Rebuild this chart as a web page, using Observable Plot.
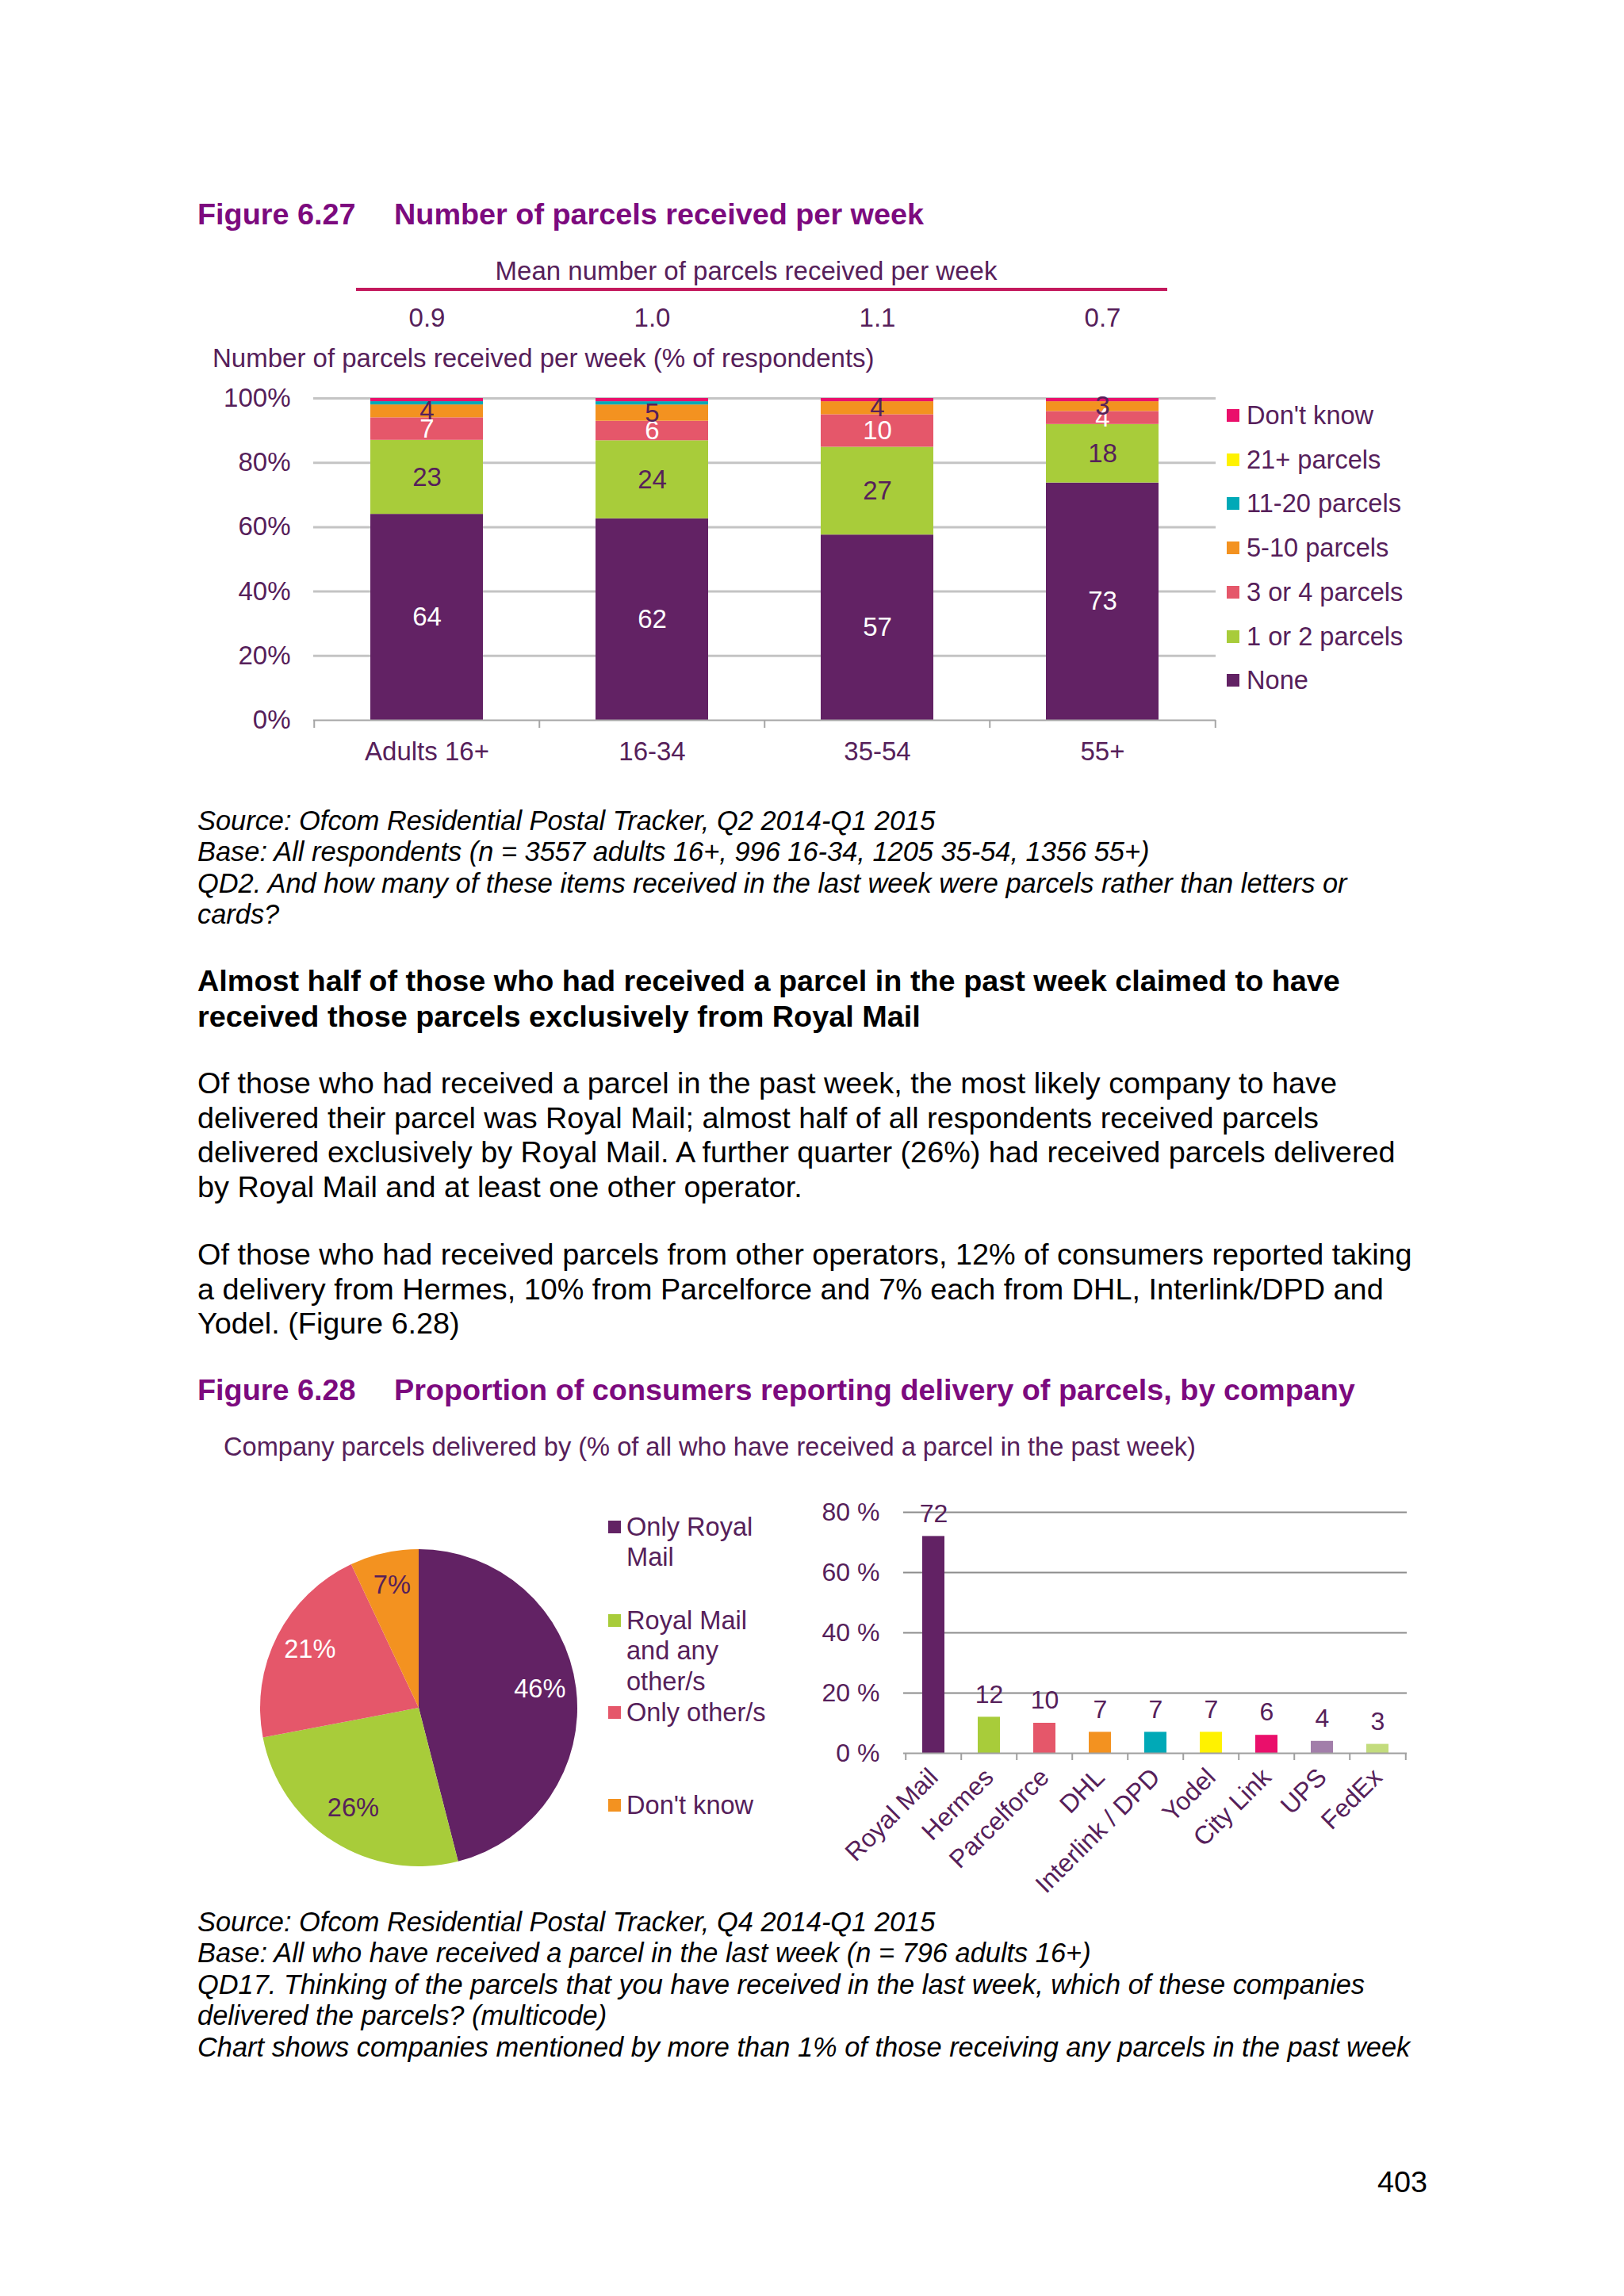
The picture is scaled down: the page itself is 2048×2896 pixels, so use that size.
<!DOCTYPE html>
<html>
<head>
<meta charset="utf-8">
<script src="https://cdn.jsdelivr.net/npm/d3@7"></script>
<script src="https://cdn.jsdelivr.net/npm/@observablehq/plot@0.6"></script>
<style>
html, body { margin: 0; padding: 0; background: #fff; }
#page { position: relative; width: 2048px; height: 2896px; background: #fff; overflow: hidden;
  font-family: "Liberation Sans", Arial, sans-serif; }
.abs { position: absolute; white-space: nowrap; }
.title { font-weight: bold; font-size: 37.8px; line-height: 44px; color: #7c0a7e; }
.body { font-size: 37.8px; color: #000; }
.src { font-style: italic; font-size: 34.4px; line-height: 39.4px; color: #000; }
.ct { font-size: 33px; line-height: 40px; color: #56205a; }
.lg { font-size: 32.6px; line-height: 40px; color: #56205a; }
.sw { position: absolute; width: 16px; height: 16px; }
</style>
</head>
<body>
<div id="page">
  <div class="abs title" style="left:249px;top:248px;">Figure 6.27</div>
  <div class="abs title" style="left:497px;top:248px;">Number of parcels received per week</div>

  <div class="abs ct" style="left:941px;top:322px;transform:translateX(-50%);">Mean number of parcels received per week</div>
  <div class="abs" style="left:449px;top:363px;width:1023px;height:4px;background:#c3195d;"></div>
  <div class="abs ct" style="left:268px;top:432px;">Number of parcels received per week (% of respondents)</div>

  <div id="chart1" class="abs" style="left:240px;top:370px;"></div>
  <div id="legend1"></div>

  <div class="abs src" style="left:249px;top:1016px;">Source: Ofcom Residential Postal Tracker, Q2 2014-Q1 2015<br>Base: All respondents (n = 3557 adults 16+, 996 16-34, 1205 35-54, 1356 55+)<br>QD2. And how many of these items received in the last week were parcels rather than letters or<br>cards?</div>

  <div class="abs body" style="left:249px;top:1215px;line-height:44.5px;font-weight:bold;">Almost half of those who had received a parcel in the past week claimed to have<br>received those parcels exclusively from Royal Mail</div>

  <div class="abs body" style="left:249px;top:1345px;line-height:43.7px;">Of those who had received a parcel in the past week, the most likely company to have<br>delivered their parcel was Royal Mail; almost half of all respondents received parcels<br>delivered exclusively by Royal Mail. A further quarter (26%) had received parcels delivered<br>by Royal Mail and at least one other operator.</div>

  <div class="abs body" style="left:249px;top:1561px;line-height:43.5px;">Of those who had received parcels from other operators, 12% of consumers reported taking<br>a delivery from Hermes, 10% from Parcelforce and 7% each from DHL, Interlink/DPD and<br>Yodel. (Figure 6.28)</div>

  <div class="abs title" style="left:249px;top:1731px;">Figure 6.28</div>
  <div class="abs title" style="left:497px;top:1731px;">Proportion of consumers reporting delivery of parcels, by company</div>
  <div class="abs ct" style="left:282px;top:1805px;font-size:32.6px;">Company parcels delivered by (% of all who have received a parcel in the past week)</div>

  <div id="pie" class="abs" style="left:308px;top:1934px;"></div>
  <div id="legend2"></div>
  <div id="chart2" class="abs" style="left:1000px;top:1860px;"></div>

  <div class="abs src" style="left:249px;top:2405px;">Source: Ofcom Residential Postal Tracker, Q4 2014-Q1 2015<br>Base: All who have received a parcel in the last week (n = 796 adults 16+)<br>QD17. Thinking of the parcels that you have received in the last week, which of these companies<br>delivered the parcels? (multicode)<br>Chart shows companies mentioned by more than 1% of those receiving any parcels in the past week</div>

  <div class="abs body" style="right:248px;top:2730px;line-height:44px;">403</div>
</div>

<script>
// ---------- Figure 6.27 data ----------
const groups = ["Adults 16+", "16-34", "35-54", "55+"];
const seriesNames = ["None", "1 or 2 parcels", "3 or 4 parcels", "5-10 parcels", "11-20 parcels", "21+ parcels", "Don't know"];
const noneVals      = [64, 62, 57, 73];
const oneTwoVals    = [23, 24, 27, 18];
const threeFourVals = [7, 6, 10, 4];
const fiveTenVals   = [4, 5, 4, 3];
const elevenTwentyVals = [1, 1, 0, 0];
const twentyOneVals = [0, 0, 0, 0];
const dontKnowVals  = [1, 1, 1, 1];
const meanParcels = ["0.9", "1.0", "1.1", "0.7"];
const seriesPalette = ["#622264", "#a8cc3a", "#e5576a", "#f39220", "#00a9b7", "#fff200", "#ea0f6b"];

// ---------- Figure 6.28 data ----------
const pieCategories = ["Only Royal Mail", "Royal Mail and any other/s", "Only other/s", "Don't know"];
const pieShares = [46, 26, 21, 7];
const piePalette = ["#622264", "#a8cc3a", "#e5576a", "#f39220"];

const companies = ["Royal Mail", "Hermes", "Parcelforce", "DHL", "Interlink / DPD", "Yodel", "City Link", "UPS", "FedEx"];
const companyShares = [72, 12, 10, 7, 7, 7, 6, 4, 3];
const companyPalette = ["#622264", "#a8cc3a", "#e5576a", "#f39220", "#00a9b7", "#fff200", "#ea0f6b", "#a27eaa", "#c3dc7d"];

const FONT = '"Liberation Sans", Arial, sans-serif';
const TXT = "#56205a";

// ---------- Chart 1: stacked 100% columns ----------
const seriesValues = [noneVals, oneTwoVals, threeFourVals, fiveTenVals, elevenTwentyVals, twentyOneVals, dontKnowVals];
const rows1 = seriesNames.flatMap((s, si) => groups.map((g, gi) => ({group: g, series: s, value: seriesValues[si][gi]})));
const whiteLabelSeries = ["None", "3 or 4 parcels"];
const darkLabelSeries = ["1 or 2 parcels", "5-10 parcels"];

const W1 = 1600, H1 = 610, ML1 = 155, MR1 = 307, MT1 = 132, MB1 = 72;
const step1 = (W1 - ML1 - MR1) / groups.length;
const tick1 = 10 / (H1 - MT1 - MB1);

const chart1 = Plot.plot({
  width: W1, height: H1,
  marginLeft: ML1, marginRight: MR1, marginTop: MT1, marginBottom: MB1,
  style: {fontFamily: FONT, fontSize: "33px", color: TXT, background: "transparent", overflow: "visible"},
  x: {domain: groups, paddingInner: 0.5, paddingOuter: 0.25, tickSize: 0, tickPadding: 27, label: null},
  y: {domain: [0, 1], ticks: 5, tickFormat: d3.format(".0%"), tickSize: 0, tickPadding: 29, label: null},
  color: {domain: seriesNames, range: seriesPalette},
  marks: [
    Plot.ruleY([0.2, 0.4, 0.6, 0.8, 1], {stroke: "#c4c4c4", strokeWidth: 3}),
    Plot.barY(rows1, Plot.stackY({offset: "expand", x: "group", y: "value", fill: "series"})),
    Plot.ruleY([0], {stroke: "#a6a6a6", strokeWidth: 2}),
    Plot.ruleX(groups, {x: d => d, y1: 0, y2: -tick1, dx: -step1 / 2, stroke: "#a6a6a6", strokeWidth: 2}),
    Plot.ruleX(groups.slice(-1), {x: d => d, y1: 0, y2: -tick1, dx: step1 / 2, stroke: "#a6a6a6", strokeWidth: 2}),
    Plot.text(rows1, Plot.stackY({offset: "expand", x: "group", y: "value", z: "series",
      text: d => whiteLabelSeries.includes(d.series) ? String(d.value) : "", fill: "#ffffff"})),
    Plot.text(rows1, Plot.stackY({offset: "expand", x: "group", y: "value", z: "series",
      text: d => darkLabelSeries.includes(d.series) ? String(d.value) : "", fill: TXT})),
    Plot.text(groups, {x: d => d, text: (d, i) => meanParcels[i], frameAnchor: "top", dy: -114, fill: TXT})
  ]
});
document.getElementById("chart1").appendChild(chart1);

// legend 1 (top item = last series)
const leg1 = document.getElementById("legend1");
[...seriesNames].reverse().forEach((s, k) => {
  const ci = seriesNames.indexOf(s);
  const cy = 524 + k * 55.7;
  const sw = document.createElement("div");
  sw.className = "sw";
  sw.style.left = "1547px"; sw.style.top = (cy - 8) + "px"; sw.style.background = seriesPalette[ci];
  leg1.appendChild(sw);
  const t = document.createElement("div");
  t.className = "abs lg";
  t.style.left = "1572px"; t.style.top = (cy - 20) + "px";
  t.textContent = s;
  leg1.appendChild(t);
});

// ---------- Pie ----------
const pieRows = pieCategories.map((c, i) => ({category: c, share: pieShares[i]}));
function pieMark(index, scales, values, dims) {
  const w = dims.width, h = dims.height;
  const ml = dims.marginLeft || 0, mr = dims.marginRight || 0, mt = dims.marginTop || 0, mb = dims.marginBottom || 0;
  const cx = ml + (w - ml - mr) / 2, cy = mt + (h - mt - mb) / 2;
  const r = Math.min(w - ml - mr, h - mt - mb) / 2;
  const arcs = d3.pie().sort(null).value(d => d.share)(pieRows);
  const arc = d3.arc().innerRadius(0).outerRadius(r);
  const labelArc = d3.arc().innerRadius(r * 0.77).outerRadius(r * 0.77);
  const g = d3.create("svg:g").attr("transform", `translate(${cx},${cy})`);
  g.selectAll("path").data(arcs).join("path")
    .attr("d", arc)
    .attr("fill", (d, i) => piePalette[i]);
  g.selectAll("text").data(arcs).join("text")
    .attr("transform", d => `translate(${labelArc.centroid(d)})`)
    .attr("text-anchor", "middle")
    .attr("dy", "0.2em")
    .attr("fill", (d, i) => (i === 0 || i === 2) ? "#ffffff" : TXT)
    .text(d => d.data.share + "%");
  return g.node();
}
const pie = Plot.plot({
  width: 440, height: 440, margin: 20,
  style: {fontFamily: FONT, fontSize: "32.6px", color: TXT, background: "transparent", overflow: "visible"},
  marks: [pieMark]
});
document.getElementById("pie").appendChild(pie);

// legend 2
const leg2 = document.getElementById("legend2");
const leg2Centers = [1926, 2044, 2160, 2277];
pieCategories.forEach((c, i) => {
  const sw = document.createElement("div");
  sw.className = "sw";
  sw.style.left = "767px"; sw.style.top = (leg2Centers[i] - 8) + "px"; sw.style.background = piePalette[i];
  leg2.appendChild(sw);
  const t = document.createElement("div");
  t.className = "lg";
  t.style.position = "absolute";
  t.style.left = "790px"; t.style.top = (leg2Centers[i] - 19.25) + "px";
  t.style.width = "195px"; t.style.lineHeight = "38.5px";
  t.textContent = c;
  leg2.appendChild(t);
});

// ---------- Chart 2: company bars ----------
const rows2 = companies.map((c, i) => ({company: c, share: companyShares[i]}));
const W2 = 820, H2 = 560, ML2 = 139, MR2 = 46, MT2 = 47, MB2 = 209;
const step2 = (W2 - ML2 - MR2) / companies.length;
const tick2 = 9 * 80 / (H2 - MT2 - MB2);
const chart2 = Plot.plot({
  width: W2, height: H2,
  marginLeft: ML2, marginRight: MR2, marginTop: MT2, marginBottom: MB2,
  style: {fontFamily: FONT, fontSize: "32px", color: TXT, background: "transparent", overflow: "visible"},
  x: {domain: companies, paddingInner: 0.6, paddingOuter: 0.3, tickRotate: -45, tickSize: 0, tickPadding: 25, label: null},
  y: {domain: [0, 80], ticks: 4, tickFormat: d => d + " %", tickSize: 0, tickPadding: 30, label: null},
  color: {domain: companies, range: companyPalette},
  marks: [
    Plot.ruleY([20, 40, 60, 80], {stroke: "#8c8c8c", strokeWidth: 2}),
    Plot.barY(rows2, {x: "company", y: "share", fill: "company"}),
    Plot.ruleY([0], {stroke: "#a0a0a0", strokeWidth: 2}),
    Plot.ruleX(companies, {x: d => d, y1: 0, y2: -tick2, dx: -step2 / 2, stroke: "#a0a0a0", strokeWidth: 2}),
    Plot.ruleX(companies.slice(-1), {x: d => d, y1: 0, y2: -tick2, dx: step2 / 2, stroke: "#a0a0a0", strokeWidth: 2}),
    Plot.text(rows2, {x: "company", y: "share", text: d => String(d.share), dy: -28.5, fill: TXT})
  ]
});
document.getElementById("chart2").appendChild(chart2);
</script>
</body>
</html>
